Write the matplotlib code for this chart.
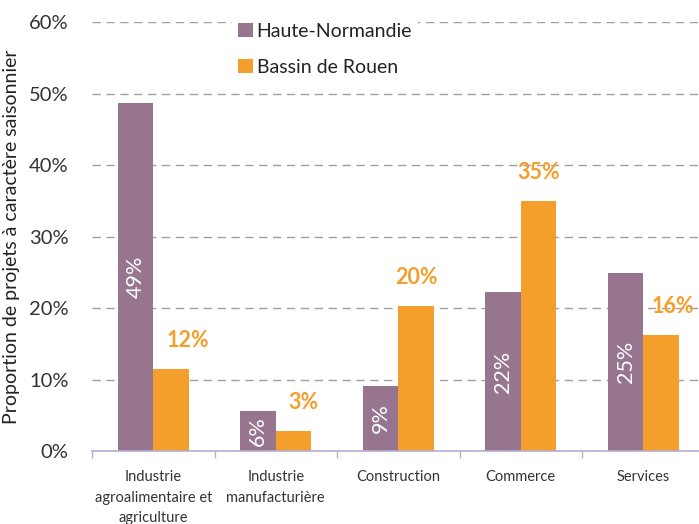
import matplotlib
matplotlib.use("Agg")
import matplotlib.pyplot as plt
import numpy as np
from matplotlib.ticker import FixedLocator, PercentFormatter

plt.rcParams["font.family"] = ["Lato", "DejaVu Sans"]

categories = [
    "Industrie\nagroalimentaire et\nagriculture",
    "Industrie\nmanufacturière",
    "Construction",
    "Commerce",
    "Services",
]
haute_normandie = [48.7, 5.6, 9.1, 22.2, 24.9]
bassin_rouen = [11.5, 2.8, 20.3, 35.0, 16.2]
hn_labels = ["49%", "6%", "9%", "22%", "25%"]
br_labels = ["12%", "3%", "20%", "35%", "16%"]

purple = "#98758f"
orange = "#f49e2c"

fig = plt.figure(figsize=(6.99, 5.24), dpi=100)
ax = fig.add_axes([0.1316, 0.1393, 0.8764, 0.8187])

x = np.arange(len(categories))
w = 0.29

ax.bar(x - w / 2, haute_normandie, w, color=purple, label="Haute-Normandie", zorder=2)
ax.bar(x + w / 2, bassin_rouen, w, color=orange, label="Bassin de Rouen", zorder=2)

# labels inside purple bars
for xi, v, t in zip(x, haute_normandie, hn_labels):
    ax.text(xi - w / 2, v / 2, t, rotation=90, ha="center", va="center",
            color="white", fontsize=15.5, zorder=3)

# orange labels above bars (hand placed in the original)
dx = [0.14, 0.08, 0.0, 0.0, 0.1]
for xi, v, t, d in zip(x, bassin_rouen, br_labels, dx):
    ax.text(xi + w / 2 + d, v + 4.0, t, ha="center", va="center",
            color=orange, fontsize=15.5, fontweight="bold", zorder=3)

ax.set_xlim(-0.5, len(categories) - 0.5)
ax.set_ylim(0, 60)
ax.yaxis.set_major_locator(FixedLocator(range(0, 61, 10)))
ax.yaxis.set_major_formatter(PercentFormatter(decimals=0))
ax.grid(axis="y", linestyle=(0, (6, 4)), color="#a0a0a0", linewidth=1, zorder=0)

ax.set_xticks(x)
ax.set_xticklabels(categories, fontsize=10.5, color="#333333", linespacing=1.55)
ax.xaxis.set_minor_locator(FixedLocator(np.arange(-0.5, len(categories), 1)))
ax.tick_params(axis="x", which="major", length=0, pad=14)
ax.tick_params(axis="x", which="minor", length=5, color="#b4aed0", width=1)
ax.tick_params(axis="y", length=0, labelsize=14.5, labelcolor="#333333", pad=17)

for s in ["top", "right", "left"]:
    ax.spines[s].set_visible(False)
ax.spines["bottom"].set_color("#b4aed0")
ax.spines["bottom"].set_linewidth(1.2)

ax.set_ylabel("Proportion de projets à caractère saisonnier", fontsize=14,
              color="#222222", labelpad=6)

leg = ax.legend(loc="upper left", bbox_to_anchor=(0.213, 1.035), fontsize=14,
                frameon=True, facecolor="white", edgecolor="none", framealpha=1,
                handlelength=0.75, handleheight=0.75, handletextpad=0.2,
                labelspacing=1.0, borderpad=0.3)
for txt in leg.get_texts():
    txt.set_color("#222222")

fig.savefig("out.png", dpi=100)
